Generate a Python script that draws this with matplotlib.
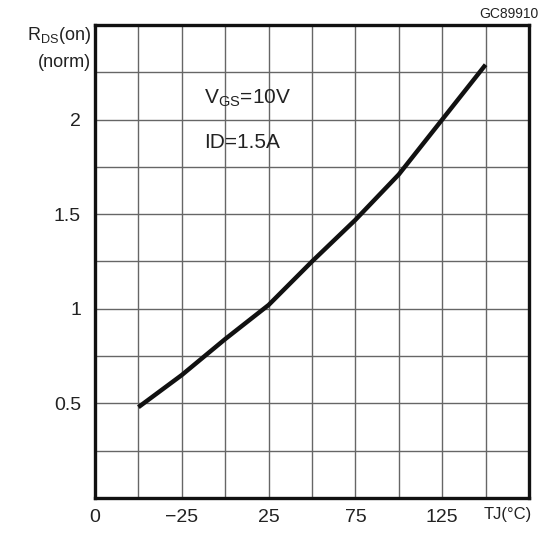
import matplotlib.pyplot as plt

# junction temperature (degC) and normalized RDS(on)
temps = [-50, -25, 0, 25, 50, 75, 100, 125, 150]
rds_norm = [0.48, 0.65, 0.84, 1.02, 1.25, 1.47, 1.71, 2.0, 2.29]

x_ticks = [-75, -25, 25, 75, 125]
x_labels = ["0", "\u221225", "25", "75", "125"]
y_ticks = [0.5, 1, 1.5, 2]
y_labels = ["0.5", "1", "1.5", "2"]


def main():
    plt.rcParams['font.family'] = ['Liberation Sans', 'DejaVu Sans']
    fig = plt.figure(figsize=(5.45, 5.34), dpi=100)
    ax = fig.add_axes([0.1743, 0.0674, 0.7963, 0.8858])

    ax.set_xlim(-75, 175)
    ax.set_ylim(0, 2.5)

    # grid every 25 degC and every 0.25
    for gx in range(-50, 175, 25):
        ax.axvline(gx, color='#666666', lw=1.0, zorder=1)
    for i in range(1, 10):
        ax.axhline(i * 0.25, color='#666666', lw=1.0, zorder=1)

    ax.plot(temps, rds_norm, color='#111111', lw=3.2, solid_capstyle='butt', zorder=3)

    ax.set_xticks(x_ticks)
    ax.set_xticklabels(x_labels, fontsize=14)
    ax.set_yticks(y_ticks)
    ax.set_yticklabels(y_labels, fontsize=14)
    ax.tick_params(length=0, pad=8, colors='#222222')
    ax.tick_params(axis='y', pad=10)

    for s in ax.spines.values():
        s.set_linewidth(2.4)
        s.set_color('#111111')

    ax.text(-12, 2.115, r"V$_\mathregular{GS}$=10V", fontsize=15, va='center', ha='left',
            color='#222222')
    ax.text(-12, 1.88, "ID=1.5A", fontsize=15, va='center', ha='left', color='#222222')

    fig.text(91 / 545, 1 - 35 / 534, r"R$_\mathregular{DS}$(on)", fontsize=13,
             ha='right', va='center', color='#222222')
    fig.text(91 / 545, 1 - 62 / 534, "(norm)", fontsize=13,
             ha='right', va='center', color='#222222')
    fig.text(508 / 545, 1 - 515 / 534, "TJ(\u00b0C)", fontsize=12,
             ha='center', va='center', color='#222222')
    fig.text(538 / 545, 1 - 14 / 534, "GC89910", fontsize=10,
             ha='right', va='center', color='#222222')

    fig.savefig('out.png', dpi=100)


if __name__ == "__main__":
    main()
